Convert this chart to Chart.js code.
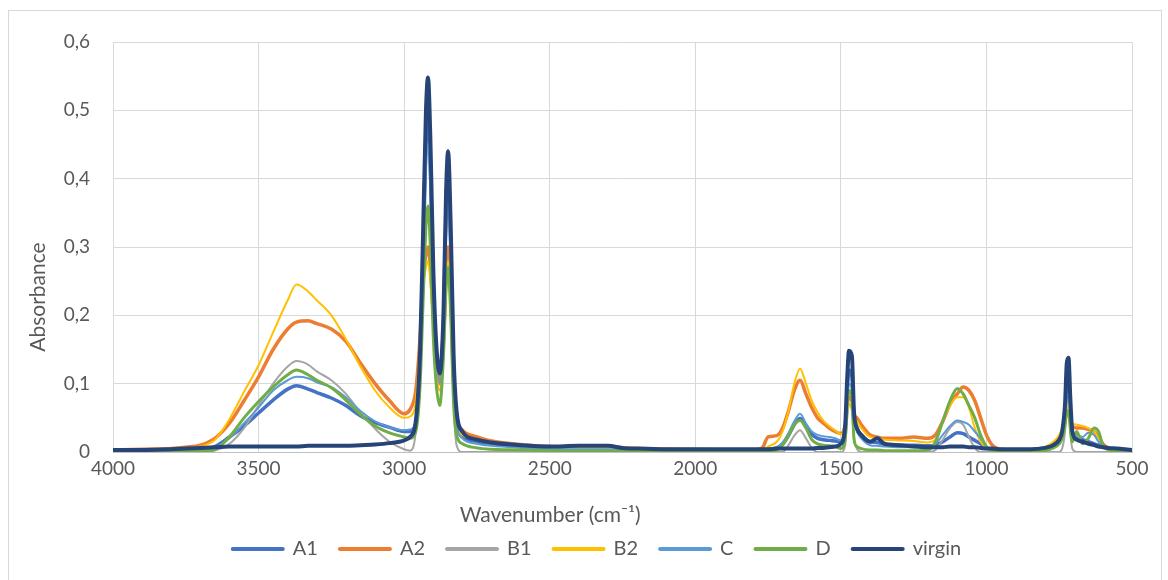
<!DOCTYPE html>
<html>
<head>
<meta charset="utf-8">
<title>FTIR spectra</title>
<script src="https://cdn.jsdelivr.net/npm/chart.js@4.4.1/dist/chart.umd.min.js"></script>
<style>
  html, body { margin: 0; padding: 0; background: #fff; }
  #frame { position: absolute; left: 8px; top: 10px; width: 1152px; height: 580px; border: 1px solid #d9d9d9; }
  #chart { position: absolute; left: 0; top: 0; }
</style>
</head>
<body>
<div id="frame"></div>
<canvas id="chart" width="1168" height="580"></canvas>
<script>
// Wavenumbers (cm-1) shared by all spectra
const wavenumbers = [
  4000, 3900, 3800, 3750, 3700, 3650, 3600, 3550, 3500,
  3450, 3400, 3370, 3330, 3300, 3250, 3200, 3150, 3100, 3050,
  3000, 2980, 2960, 2945, 2935, 2925, 2918, 2910, 2900, 2890,
  2878, 2865, 2856, 2849, 2840, 2830, 2820, 2800, 2750, 2700,
  2600, 2500, 2400, 2300, 2250, 2200, 2100, 2000, 1900, 1800,
  1770, 1750, 1720, 1700, 1680, 1660, 1640, 1620, 1600, 1580,
  1560, 1540, 1520, 1500, 1485, 1478, 1472, 1462, 1455, 1445,
  1430, 1400, 1375, 1350, 1300, 1250, 1200, 1175, 1150, 1125,
  1100, 1080, 1060, 1040, 1020, 1000, 980, 950, 900, 850,
  800, 770, 750, 740, 730, 724, 718, 712, 705, 690,
  670, 650, 630, 615, 600, 580, 550, 500
];

const seriesNames = ["A1", "A2", "B1", "B2", "C", "D", "virgin"];
const seriesColors = ["#4472C4", "#ED7D31", "#A5A5A5", "#FFC000", "#5B9BD5", "#70AD47", "#264478"];
const seriesWidths = [3.5, 3.5, 2, 2, 2, 3, 4];

const a1 = [
  0.002, 0.002, 0.003, 0.003, 0.004, 0.008, 0.022, 0.038, 0.057,
  0.076, 0.092, 0.097, 0.092, 0.087, 0.079, 0.068, 0.053, 0.043, 0.036,
  0.030, 0.030, 0.040, 0.130, 0.280, 0.450, 0.500, 0.420, 0.240, 0.150,
  0.110, 0.190, 0.350, 0.400, 0.300, 0.120, 0.050, 0.025, 0.015, 0.012,
  0.009, 0.007, 0.006, 0.005, 0.005, 0.004, 0.003, 0.003, 0.003, 0.003,
  0.003, 0.004, 0.006, 0.012, 0.024, 0.040, 0.049, 0.038, 0.026, 0.020,
  0.018, 0.017, 0.016, 0.015, 0.030, 0.090, 0.120, 0.110, 0.050, 0.035,
  0.025, 0.015, 0.014, 0.011, 0.010, 0.010, 0.009, 0.010, 0.015, 0.022,
  0.028, 0.027, 0.022, 0.017, 0.012, 0.006, 0.003, 0.002, 0.002, 0.002,
  0.004, 0.010, 0.018, 0.028, 0.050, 0.100, 0.110, 0.060, 0.030, 0.020,
  0.018, 0.015, 0.012, 0.010, 0.007, 0.005, 0.003, 0.002
];

const a2 = [
  0.003, 0.004, 0.005, 0.007, 0.010, 0.020, 0.042, 0.075, 0.110,
  0.150, 0.180, 0.190, 0.192, 0.188, 0.180, 0.162, 0.130, 0.100, 0.075,
  0.056, 0.062, 0.090, 0.170, 0.250, 0.290, 0.300, 0.270, 0.200, 0.140,
  0.100, 0.160, 0.260, 0.300, 0.230, 0.100, 0.050, 0.032, 0.022, 0.016,
  0.011, 0.008, 0.007, 0.006, 0.005, 0.005, 0.004, 0.003, 0.003, 0.003,
  0.006, 0.022, 0.024, 0.035, 0.060, 0.090, 0.105, 0.085, 0.065, 0.050,
  0.042, 0.035, 0.030, 0.027, 0.040, 0.070, 0.080, 0.075, 0.055, 0.050,
  0.040, 0.025, 0.022, 0.020, 0.020, 0.022, 0.020, 0.025, 0.045, 0.070,
  0.085, 0.095, 0.090, 0.075, 0.050, 0.025, 0.010, 0.004, 0.002, 0.002,
  0.006, 0.012, 0.020, 0.030, 0.045, 0.060, 0.060, 0.045, 0.038, 0.035,
  0.035, 0.033, 0.030, 0.022, 0.012, 0.005, 0.002, 0.001
];

const b1 = [
  0, 0, 0, 0, 0, 0.002, 0.012, 0.035, 0.068,
  0.100, 0.125, 0.133, 0.128, 0.118, 0.105, 0.085, 0.058, 0.034, 0.015,
  0.004, 0.002, 0.030, 0.140, 0.300, 0.480, 0.520, 0.430, 0.230, 0.130,
  0.090, 0.180, 0.360, 0.410, 0.280, 0.080, 0.010, 0, 0, 0,
  0, 0, 0, 0, 0, 0, 0, 0, 0, 0,
  0, 0, 0, 0, 0.010, 0.024, 0.032, 0.020, 0.006, 0,
  0, 0, 0, 0, 0.010, 0.050, 0.070, 0.060, 0.020, 0.005,
  0, 0, 0, 0, 0, 0, 0, 0.003, 0.018, 0.035,
  0.044, 0.040, 0.022, 0.006, 0, 0, 0, 0, 0, 0,
  0, 0, 0, 0.005, 0.030, 0.070, 0.070, 0.030, 0.005, 0,
  0, 0, 0, 0, 0, 0, 0, 0
];

const b2 = [
  0.002, 0.003, 0.004, 0.005, 0.008, 0.018, 0.048, 0.088, 0.127,
  0.175, 0.222, 0.245, 0.235, 0.222, 0.200, 0.165, 0.125, 0.090, 0.065,
  0.050, 0.052, 0.075, 0.160, 0.240, 0.270, 0.280, 0.250, 0.190, 0.130,
  0.090, 0.150, 0.240, 0.280, 0.210, 0.090, 0.040, 0.025, 0.017, 0.013,
  0.009, 0.007, 0.006, 0.006, 0.007, 0.006, 0.005, 0.005, 0.004, 0.003,
  0.003, 0.008, 0.015, 0.030, 0.060, 0.100, 0.122, 0.100, 0.075, 0.058,
  0.046, 0.038, 0.032, 0.026, 0.040, 0.060, 0.070, 0.065, 0.050, 0.045,
  0.035, 0.022, 0.020, 0.018, 0.017, 0.016, 0.014, 0.018, 0.045, 0.068,
  0.080, 0.080, 0.065, 0.035, 0.015, 0.006, 0.003, 0.002, 0.002, 0.002,
  0.007, 0.015, 0.025, 0.035, 0.050, 0.070, 0.070, 0.050, 0.042, 0.040,
  0.038, 0.035, 0.030, 0.020, 0.010, 0.004, 0.002, 0.001
];

const c = [
  0.001, 0.001, 0.002, 0.002, 0.003, 0.006, 0.020, 0.042, 0.065,
  0.090, 0.105, 0.110, 0.108, 0.102, 0.095, 0.080, 0.060, 0.045, 0.036,
  0.032, 0.033, 0.045, 0.130, 0.280, 0.420, 0.450, 0.380, 0.220, 0.140,
  0.100, 0.170, 0.320, 0.370, 0.270, 0.100, 0.040, 0.020, 0.012, 0.009,
  0.006, 0.004, 0.004, 0.004, 0.003, 0.003, 0.002, 0.002, 0.002, 0.002,
  0.002, 0.003, 0.006, 0.014, 0.028, 0.045, 0.056, 0.042, 0.030, 0.025,
  0.023, 0.022, 0.020, 0.017, 0.030, 0.080, 0.100, 0.090, 0.045, 0.030,
  0.020, 0.010, 0.009, 0.008, 0.007, 0.007, 0.007, 0.012, 0.025, 0.038,
  0.046, 0.044, 0.040, 0.030, 0.020, 0.008, 0.003, 0.001, 0.001, 0.001,
  0.003, 0.008, 0.015, 0.025, 0.045, 0.080, 0.085, 0.050, 0.030, 0.025,
  0.022, 0.028, 0.025, 0.015, 0.008, 0.004, 0.002, 0.001
];

const d = [
  0, 0, 0, 0, 0.001, 0.004, 0.022, 0.050, 0.074,
  0.095, 0.113, 0.120, 0.113, 0.105, 0.094, 0.076, 0.055, 0.038, 0.028,
  0.022, 0.020, 0.030, 0.100, 0.220, 0.330, 0.360, 0.300, 0.170, 0.100,
  0.068, 0.140, 0.240, 0.270, 0.200, 0.070, 0.025, 0.012, 0.006, 0.004,
  0.003, 0.002, 0.001, 0.001, 0.001, 0.001, 0.001, 0.001, 0.001, 0.001,
  0.001, 0.001, 0.003, 0.010, 0.024, 0.040, 0.046, 0.035, 0.018, 0.012,
  0.010, 0.009, 0.008, 0.005, 0.020, 0.070, 0.090, 0.080, 0.020, 0.008,
  0.005, 0.003, 0.003, 0.002, 0.002, 0.002, 0.003, 0.015, 0.045, 0.075,
  0.093, 0.085, 0.068, 0.050, 0.025, 0.008, 0.002, 0, 0, 0,
  0.002, 0.006, 0.012, 0.020, 0.040, 0.060, 0.060, 0.035, 0.015, 0.030,
  0.012, 0.020, 0.035, 0.030, 0.010, 0.003, 0.001, 0
];

const virgin = [
  0.003, 0.003, 0.004, 0.005, 0.006, 0.007, 0.008, 0.008, 0.008,
  0.008, 0.008, 0.008, 0.009, 0.009, 0.009, 0.009, 0.010, 0.011, 0.013,
  0.017, 0.022, 0.045, 0.150, 0.320, 0.500, 0.548, 0.460, 0.270, 0.160,
  0.115, 0.200, 0.380, 0.440, 0.330, 0.140, 0.060, 0.030, 0.018, 0.014,
  0.010, 0.008, 0.009, 0.009, 0.006, 0.005, 0.004, 0.004, 0.004, 0.004,
  0.004, 0.004, 0.005, 0.005, 0.005, 0.005, 0.005, 0.005, 0.005, 0.006,
  0.006, 0.007, 0.008, 0.012, 0.040, 0.110, 0.148, 0.140, 0.060, 0.035,
  0.025, 0.015, 0.020, 0.012, 0.010, 0.008, 0.007, 0.007, 0.007, 0.008,
  0.008, 0.008, 0.007, 0.007, 0.006, 0.005, 0.005, 0.004, 0.004, 0.004,
  0.006, 0.010, 0.018, 0.030, 0.070, 0.130, 0.138, 0.080, 0.030, 0.018,
  0.015, 0.012, 0.010, 0.008, 0.007, 0.006, 0.005, 0.003
];

const seriesValues = [a1, a2, b1, b2, c, d, virgin];

// Axis ticks and titles
const xTickValues = [4000, 3500, 3000, 2500, 2000, 1500, 1000, 500];
const yTickValues = [0, 0.1, 0.2, 0.3, 0.4, 0.5, 0.6];
const xTitleText = "Wavenumber (cm⁻¹)";
const yTitleText = "Absorbance";

const textColor = "#595959";
const fontFamily = "Lato, 'Open Sans', sans-serif";

// Later series are painted on top, like in the spreadsheet
const datasets = seriesNames.map((name, i) => ({
  label: name,
  data: wavenumbers.map((w, j) => ({ x: w, y: seriesValues[i][j] })),
  borderColor: seriesColors[i],
  backgroundColor: seriesColors[i],
  borderWidth: seriesWidths[i],
  pointRadius: 0,
  cubicInterpolationMode: "monotone",
  borderJoinStyle: "round",
  borderCapStyle: "round",
  order: seriesNames.length - 1 - i
}));

function formatComma(v) {
  return v === 0 ? "0" : v.toFixed(1).replace(".", ",");
}

// The axis titles sit off-centre in the original, so draw them here
const axisTitles = {
  id: "axisTitles",
  afterDraw(chart) {
    const { ctx, chartArea } = chart;
    const w = chartArea.right - chartArea.left;
    const h = chartArea.bottom - chartArea.top;
    ctx.save();
    ctx.fillStyle = textColor;
    ctx.font = "21px " + fontFamily;
    ctx.textAlign = "center";
    ctx.textBaseline = "middle";
    ctx.fillText(xTitleText, chartArea.left + w * 0.429, chartArea.bottom + 63);
    ctx.translate(chartArea.left - 75, chartArea.top + h * 0.622);
    ctx.rotate(-Math.PI / 2);
    ctx.fillText(yTitleText, 0, 0);
    ctx.restore();
  }
};

// Nudge the legend row to the right, as in the original
const legendShift = {
  id: "legendShift",
  afterLayout(chart) {
    chart.legend.left += 31;
    chart.legend.right += 31;
  }
};

new Chart(document.getElementById("chart"), {
  type: "line",
  data: { datasets },
  plugins: [axisTitles, legendShift],
  options: {
    responsive: false,
    animation: false,
    devicePixelRatio: 1,
    layout: { padding: { left: 0, right: 36, top: 42, bottom: 11 } },
    plugins: {
      tooltip: { enabled: false },
      legend: {
        position: "bottom",
        labels: {
          color: textColor,
          font: { family: fontFamily, size: 20 },
          usePointStyle: true,
          pointStyle: "line",
          pointStyleWidth: 50,
          boxHeight: 20,
          padding: 22,
          sort: (a, b) => a.datasetIndex - b.datasetIndex,
          generateLabels: (chart) => {
            const items = Chart.defaults.plugins.legend.labels.generateLabels(chart);
            items.forEach(it => { it.lineWidth = 4; it.lineCap = "round"; });
            return items;
          }
        }
      }
    },
    scales: {
      x: {
        type: "linear",
        reverse: true,
        min: 500,
        max: 4000,
        afterBuildTicks: (scale) => { scale.ticks = xTickValues.map(v => ({ value: v })); },
        afterFit: (scale) => { scale.height = 65; },
        ticks: {
          color: textColor,
          font: { family: fontFamily, size: 19 },
          padding: 5,
          maxRotation: 0,
          callback: (v) => String(v)
        },
        grid: { color: "#d9d9d9", lineWidth: 1, drawTicks: false },
        border: { color: "#bfbfbf", width: 1 }
      },
      y: {
        min: 0,
        max: 0.6,
        afterBuildTicks: (scale) => { scale.ticks = yTickValues.map(v => ({ value: v })); },
        afterFit: (scale) => { scale.width = 113; },
        ticks: {
          color: textColor,
          font: { family: fontFamily, size: 19 },
          padding: 23,
          callback: (v) => formatComma(v)
        },
        grid: { color: "#d9d9d9", lineWidth: 1, drawTicks: false },
        border: { display: false }
      }
    }
  }
});
</script>
</body>
</html>
